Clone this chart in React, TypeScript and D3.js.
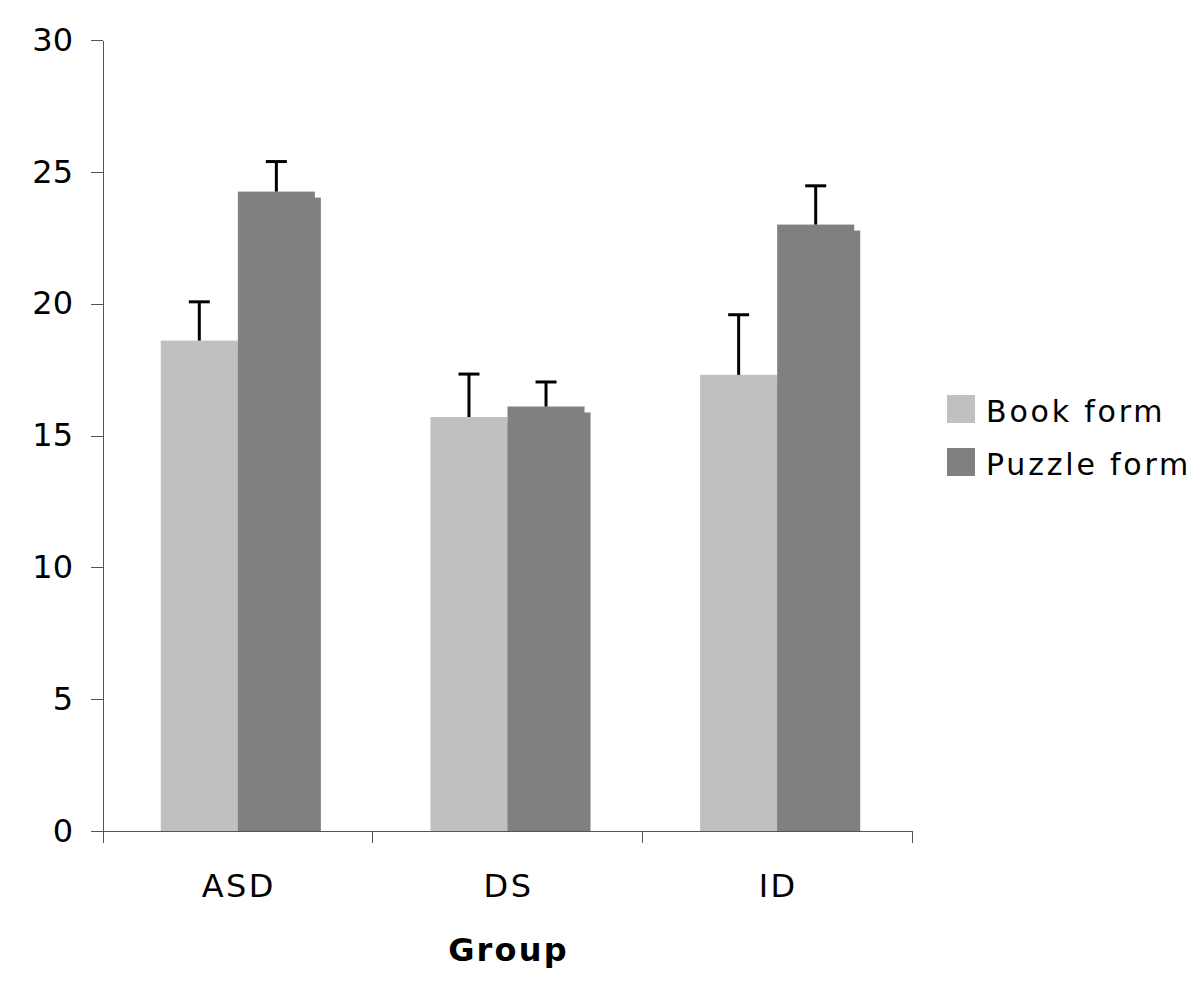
import React, { useEffect, useRef } from "react";
import * as d3 from "d3";

const groups = ["ASD", "DS", "ID"];
const seriesNames = ["Book form", "Puzzle form"];
const bookMeans = [18.6, 15.7, 17.3];
const bookErrors = [1.47, 1.63, 2.28];
const puzzleMeans = [24.25, 16.1, 23.0];
const puzzleErrors = [1.14, 0.93, 1.47];
const yTicks = [0, 5, 10, 15, 20, 25, 30];
const xTitle = "Group";

const colors = ["#c0c0c0", "#808080"];

const App = () => {
  const ref = useRef<SVGSVGElement | null>(null);

  useEffect(() => {
    const svg = d3.select(ref.current);
    svg.selectAll("*").remove();

    const font = "'DejaVu Sans', Verdana, sans-serif";
    const axisColor = "#555";

    const y = d3.scaleLinear().domain([0, 30]).range([831, 40]);
    const x0 = d3.scaleBand().domain(groups).range([103, 912]).paddingInner(0).paddingOuter(0);
    const x1 = d3
      .scaleBand()
      .domain(seriesNames)
      .range([0, x0.bandwidth()])
      .paddingInner(0)
      .paddingOuter(0.75);

    const rows = groups.map((g, i) => ({
      group: g,
      values: [
        { key: seriesNames[0], mean: bookMeans[i], err: bookErrors[i] },
        { key: seriesNames[1], mean: puzzleMeans[i], err: puzzleErrors[i] },
      ],
    }));

    // bars (with the small offset shadow the original has)
    const shadow = 6;
    const g = svg
      .selectAll("g.grp")
      .data(rows)
      .join("g")
      .attr("class", "grp")
      .attr("transform", (d) => `translate(${x0(d.group)},0)`);

    g.selectAll("g.bar")
      .data((d) => d.values)
      .join("g")
      .attr("class", "bar")
      .each(function (d, i) {
        const sel = d3.select(this);
        const bx = x1(d.key) as number;
        const top = y(d.mean);
        sel
          .append("rect")
          .attr("x", bx + shadow)
          .attr("y", top + shadow)
          .attr("width", x1.bandwidth())
          .attr("height", Math.max(0, y(0) - top - shadow))
          .attr("fill", colors[i]);
        sel
          .append("rect")
          .attr("x", bx)
          .attr("y", top)
          .attr("width", x1.bandwidth())
          .attr("height", y(0) - top)
          .attr("fill", colors[i]);
      });

    // error bars
    g.selectAll("g.err")
      .data((d) => d.values)
      .join("g")
      .attr("class", "err")
      .each(function (d) {
        const sel = d3.select(this);
        const cx = (x1(d.key) as number) + x1.bandwidth() / 2;
        sel
          .append("line")
          .attr("x1", cx)
          .attr("x2", cx)
          .attr("y1", y(d.mean))
          .attr("y2", y(d.mean + d.err))
          .attr("stroke", "#000")
          .attr("stroke-width", 3);
        sel
          .append("line")
          .attr("x1", cx - 10.5)
          .attr("x2", cx + 10.5)
          .attr("y1", y(d.mean + d.err))
          .attr("y2", y(d.mean + d.err))
          .attr("stroke", "#000")
          .attr("stroke-width", 3);
      });

    // y axis
    const yAxis = svg
      .append("g")
      .attr("transform", "translate(103,0)")
      .call(d3.axisLeft(y).tickValues(yTicks).tickSize(12).tickSizeOuter(0).tickPadding(18));
    yAxis.select(".domain").attr("stroke", axisColor).attr("shape-rendering", "crispEdges");
    yAxis.selectAll(".tick line").attr("stroke", axisColor).attr("shape-rendering", "crispEdges");
    yAxis
      .selectAll(".tick text")
      .attr("fill", "#000")
      .style("font-family", font)
      .style("font-size", "32px");

    // x axis: line, boundary ticks, centred labels
    const xa = svg.append("g");
    const [r0, r1] = x0.range();
    xa.append("line")
      .attr("x1", r0)
      .attr("x2", r1)
      .attr("y1", y(0))
      .attr("y2", y(0))
      .attr("stroke", axisColor)
      .attr("shape-rendering", "crispEdges");
    const bounds = groups.map((d) => x0(d) as number).concat([r1]);
    xa.selectAll("line.tk")
      .data(bounds)
      .join("line")
      .attr("class", "tk")
      .attr("x1", (d) => d)
      .attr("x2", (d) => d)
      .attr("y1", y(0))
      .attr("y2", y(0) + 12)
      .attr("stroke", axisColor)
      .attr("shape-rendering", "crispEdges");
    xa.selectAll("text")
      .data(groups)
      .join("text")
      .attr("x", (d) => (x0(d) as number) + x0.bandwidth() / 2 + 1)
      .attr("y", 897)
      .attr("text-anchor", "middle")
      .style("font-family", font)
      .style("font-size", "32px")
      .style("letter-spacing", "2.5px")
      .text((d) => d);

    svg
      .append("text")
      .attr("x", (r0 + r1) / 2 + 1)
      .attr("y", 961)
      .attr("text-anchor", "middle")
      .style("font-family", font)
      .style("font-size", "32px")
      .style("font-weight", "bold")
      .style("letter-spacing", "2.2px")
      .text(xTitle);

    // legend
    const legend = svg
      .selectAll("g.leg")
      .data(seriesNames)
      .join("g")
      .attr("class", "leg")
      .attr("transform", (d, i) => `translate(947,${395 + i * 53})`);
    legend
      .append("rect")
      .attr("width", 28)
      .attr("height", 28)
      .attr("fill", (d, i) => colors[i]);
    legend
      .append("text")
      .attr("x", 39)
      .attr("y", 27)
      .style("font-family", font)
      .style("font-size", "30px")
      .style("letter-spacing", "2.8px")
      .text((d) => d);
  }, []);

  return (
    <svg
      ref={ref}
      width={1200}
      height={982}
      style={{ position: "absolute", left: 0, top: 0, background: "#fff" }}
    />
  );
};

export default App;
